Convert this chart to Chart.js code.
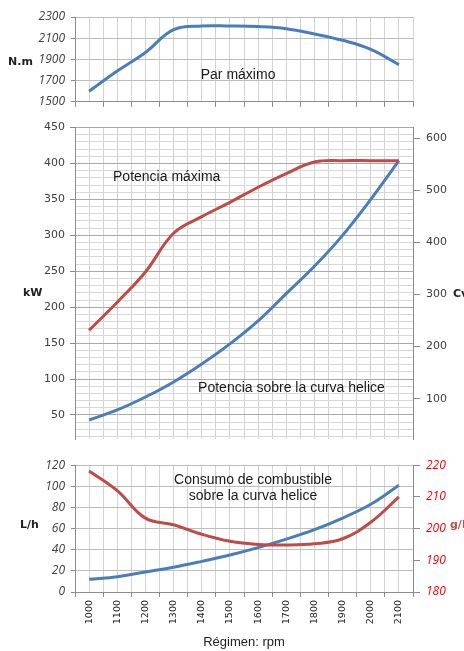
<!DOCTYPE html>
<html>
<head>
<meta charset="utf-8">
<script src="https://cdn.jsdelivr.net/npm/chart.js@4.4.1/dist/chart.umd.min.js"></script>
<style>
  body { margin: 0; background: #fff; }
  #wrap { position: relative; width: 464px; height: 651px; overflow: hidden; }
  canvas { position: absolute; left: 0; }
</style>
</head>
<body>
<div id="wrap">
  <canvas id="parChart" width="464" height="115" style="top:0px"></canvas>
  <canvas id="potChart" width="464" height="337" style="top:115px"></canvas>
  <canvas id="consChart" width="464" height="199" style="top:452px"></canvas>
</div>
<script>
// Régimen (rpm)
const rpm = [1000, 1100, 1200, 1300, 1400, 1500, 1600, 1700, 1800, 1900, 2000, 2100];
// Par máximo (N.m)
const parMax = [1600, 1790, 1965, 2180, 2215, 2215, 2210, 2190, 2140, 2080, 1995, 1850];
// Potencia máxima (kW)
const potMax = [168, 207, 249, 303, 326, 346, 367, 386, 402, 404, 404, 404];
// Potencia sobre la curva helice (kW)
const potHelice = [43, 57, 75, 96, 121, 149, 181, 219, 257, 300, 350, 404];
// Consumo sobre la curva helice
const consumoLh = [12, 14.5, 19, 23.5, 29, 35, 42, 50, 59, 70, 83, 101];
const consumoGkwh = [218.2, 212, 203.3, 201.2, 198.2, 196, 195, 194.8, 195.2, 196.8, 202, 210];

// tick labels
const parTicks = [1500, 1700, 1900, 2100, 2300];
const kwTicks = [50, 100, 150, 200, 250, 300, 350, 400, 450];
const cvTicks = [100, 200, 300, 400, 500, 600];
const lhTicks = [0, 20, 40, 60, 80, 100, 120];
const gkwhTicks = [180, 190, 200, 210, 220];

const BLUE = '#4a7ebb';
const RED = '#be4b48';
const AXIS = '#8c8c8c';
const FONT_SANS = '"Liberation Sans", Arial, sans-serif';

// vertical grid every half step (category centres + boundaries)
const gridRpm = [];
for (let v = 950; v <= 2150; v += 50) gridRpm.push(v);

function toTicks(list) {
  return list.map(v => ({ value: v }));
}

function line(data, color, axisId) {
  return {
    data: rpm.map((r, i) => ({ x: r, y: data[i] })),
    borderColor: color,
    borderWidth: 3,
    pointRadius: 0,
    tension: 0.4,
    fill: false,
    yAxisID: axisId
  };
}

function xAxis(height, opts) {
  return {
    type: 'linear',
    min: 950,
    max: 2150,
    afterBuildTicks: ax => { ax.ticks = toTicks(gridRpm); },
    afterFit: ax => { ax.height = height; },
    grid: {
      color: '#d3d3d3',
      drawTicks: opts.marks,
      tickLength: 5,
      tickColor: c => (c.tick && c.tick.value % 100 === 50) ? AXIS : 'rgba(0,0,0,0)'
    },
    border: { display: opts.marks, color: AXIS },
    ticks: {
      display: opts.labels,
      autoSkip: false,
      minRotation: 90,
      maxRotation: 90,
      padding: 3,
      color: '#222',
      font: { family: '"DejaVu Sans", sans-serif', size: 9.5 },
      callback: v => rpm.includes(v) ? String(v) : ''
    },
    title: {
      display: opts.labels,
      text: 'Régimen: rpm',
      color: '#222',
      font: { family: FONT_SANS, size: 13 },
      padding: { top: 0, bottom: 1 }
    }
  };
}

// text drawn over the chart (annotations and horizontal axis names)
function textLayer(items) {
  return {
    id: 'textLayer',
    afterDraw(chart) {
      const ctx = chart.ctx;
      ctx.save();
      items.forEach(it => {
        const x = it.rpm !== undefined ? chart.scales.x.getPixelForValue(it.rpm) : it.px;
        const y = it.val !== undefined ? chart.scales.y.getPixelForValue(it.val) : it.py;
        ctx.font = it.font || '14px ' + FONT_SANS;
        ctx.fillStyle = it.color || '#1a1a1a';
        ctx.textAlign = it.align || 'left';
        ctx.textBaseline = 'middle';
        ctx.fillText(it.text, x, y);
      });
      ctx.restore();
    }
  };
}

const titleFont = 'bold 11px "DejaVu Sans", sans-serif';
const plain = v => String(v);
const baseOpts = {
  responsive: false,
  animation: false,
  events: [],
  plugins: { legend: { display: false }, tooltip: { enabled: false } }
};

// Par máximo
new Chart(document.getElementById('parChart'), {
  type: 'line',
  data: { datasets: [line(parMax, BLUE, 'y')] },
  options: Object.assign({}, baseOpts, {
    layout: { padding: { top: 17, right: 51, bottom: 0, left: 0 } },
    scales: {
      x: xAxis(7, { marks: true, labels: false }),
      y: {
        min: 1500, max: 2300,
        afterBuildTicks: ax => { ax.ticks = toTicks(parTicks); },
        afterFit: ax => { ax.width = 75; },
        grid: { color: '#bdbdbd', tickLength: 4, tickColor: AXIS },
        border: { color: AXIS },
        ticks: { padding: 6, color: '#404040', callback: plain, font: { family: '"Open Sans", sans-serif', size: 12, style: 'italic' } }
      }
    }
  }),
  plugins: [textLayer([
    { text: 'Par máximo', rpm: 1529, val: 1755, align: 'center' },
    { text: 'N.m', px: 8, py: 62, font: titleFont, color: '#222' }
  ])]
});

// Potencia (kW / Cv)
const kwGrid = [];
for (let v = 20; v <= 450; v += 10) kwGrid.push(v);

new Chart(document.getElementById('potChart'), {
  type: 'line',
  data: { datasets: [line(potMax, RED, 'y'), line(potHelice, BLUE, 'y')] },
  options: Object.assign({}, baseOpts, {
    layout: { padding: { top: 10, right: 0, bottom: 0, left: 0 } },
    scales: {
      x: xAxis(5, { marks: false, labels: false }),
      y: {
        min: 16, max: 450,
        afterBuildTicks: ax => { ax.ticks = toTicks(kwGrid); },
        afterFit: ax => { ax.width = 75; },
        grid: {
          color: c => c.tick.value % 50 === 0 ? '#a9a9a9' : '#d8d8d8',
          tickLength: 5,
          tickColor: c => c.tick.value % 50 === 0 ? AXIS : 'rgba(0,0,0,0)'
        },
        border: { color: AXIS },
        ticks: {
          padding: 5, color: '#404040', autoSkip: false,
          font: { family: '"DejaVu Sans", sans-serif', size: 11 },
          callback: v => kwTicks.includes(v) ? String(v) : ''
        }
      },
      y2: {
        position: 'right',
        min: 22, max: 620,
        afterBuildTicks: ax => { ax.ticks = toTicks(cvTicks); },
        afterFit: ax => { ax.width = 51; },
        grid: { drawOnChartArea: false, tickLength: 7, tickColor: AXIS },
        border: { color: AXIS },
        ticks: { padding: 6, color: '#404040', callback: plain, font: { family: '"DejaVu Sans", sans-serif', size: 11 } }
      }
    }
  }),
  plugins: [textLayer([
    { text: 'Potencia máxima', rpm: 1085, val: 381 },
    { text: 'Potencia sobre la curva helice', rpm: 1387, val: 87.5 },
    { text: 'kW', px: 23, py: 178, font: titleFont, color: '#222' },
    { text: 'Cv', px: 453, py: 179, font: titleFont, color: '#222' }
  ])]
});

// Consumo de combustible
new Chart(document.getElementById('consChart'), {
  type: 'line',
  data: { datasets: [line(consumoGkwh, RED, 'y2'), line(consumoLh, BLUE, 'y')] },
  options: Object.assign({}, baseOpts, {
    layout: { padding: { top: 5, right: 0, bottom: 0, left: 0 } },
    scales: {
      x: xAxis(59, { marks: true, labels: true }),
      y: {
        min: 0, max: 120,
        afterBuildTicks: ax => { ax.ticks = toTicks(lhTicks); },
        afterFit: ax => { ax.width = 75; },
        grid: { color: '#bdbdbd', tickLength: 4, tickColor: AXIS },
        border: { color: AXIS },
        ticks: { padding: 6, color: '#404040', callback: plain, font: { family: '"Open Sans", sans-serif', size: 12, style: 'italic' } }
      },
      y2: {
        position: 'right',
        min: 180, max: 220,
        afterBuildTicks: ax => { ax.ticks = toTicks(gkwhTicks); },
        afterFit: ax => { ax.width = 51; },
        grid: { drawOnChartArea: false, tickLength: 7, tickColor: AXIS },
        border: { color: AXIS },
        ticks: { padding: 6, color: '#ff0000', callback: plain, font: { family: '"Open Sans", sans-serif', size: 12, style: 'italic' } }
      }
    }
  }),
  plugins: [textLayer([
    { text: 'Consumo de combustible', rpm: 1582, val: 105.8, align: 'center' },
    { text: 'sobre la curva helice', rpm: 1582, val: 90.7, align: 'center' },
    { text: 'L/h', px: 20, py: 73, font: titleFont, color: '#222' },
    { text: 'g/kWh', px: 450, py: 73, font: titleFont, color: '#c0504d' }
  ])]
});
</script>
</body>
</html>
